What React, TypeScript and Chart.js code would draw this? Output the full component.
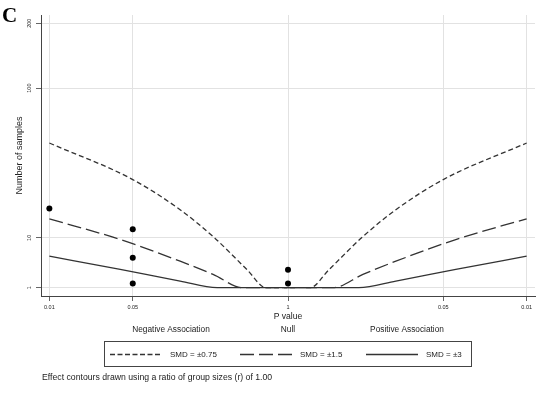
import React, { useEffect, useRef } from "react";
import { Chart, registerables } from "chart.js";
Chart.register(...registerables);

const FONT = "'Liberation Sans', Arial, Helvetica, sans-serif";
const LINE = "#333333";

// x axis: signed -log10(p) (negative association on the left)
const xTickValues = [-2, -1.30103, 0, 1.30103, 2];
const xTickLabels = ["0.01", "0.05", "1", "0.05", "0.01"];
// y axis: number of samples
const yTickValues = [1, 10, 100, 200];
const yTickLabels = ["1", "10", "100", "200"];
const yScaleStops = [0, 50, 200, 265];

// contour SMD = ±0.75
const smd075X = [-2, -1.301, -0.904, -0.628, -0.343, -0.184, 0.184, 0.343, 0.628, 0.904, 1.301, 2];
const smd075N = [43, 24.5, 15.4, 10.2, 2.3, 1, 1, 2.3, 10.2, 15.4, 24.5, 43];
// contour SMD = ±1.5
const smd15X = [-2, -1.406, -0.904, -0.628, -0.377, 0.377, 0.628, 0.904, 1.406, 2];
const smd15N = [13.4, 9.25, 3.4, 1.85, 1, 1, 1.85, 3.4, 9.25, 13.4];
// contour SMD = ±3
const smd3X = [-2, -1.406, -0.904, -0.594, 0.594, 0.904, 1.406, 2];
const smd3N = [4.29, 2.32, 1.36, 1, 1, 1.36, 2.32, 4.29];
// studies
const studyX = [-2, -1.30103, -1.30103, -1.30103, 0, 0];
const studyN = [15.7, 11.4, 4.0, 1.22, 2.3, 1.22];

function ty(n: number): number {
  const l = Math.log10(n);
  const L = yTickValues.map((v) => Math.log10(v));
  let i = 0;
  while (i < L.length - 2 && l > L[i + 1]) i++;
  return yScaleStops[i] + ((l - L[i]) / (L[i + 1] - L[i])) * (yScaleStops[i + 1] - yScaleStops[i]);
}

function pts(xs: number[], ns: number[]) {
  return xs.map((x, i) => ({ x, y: ty(ns[i]) }));
}

export default function App() {
  const ref = useRef<HTMLCanvasElement>(null);
  useEffect(() => {
    document.body.style.margin = "0";
    const canvas = ref.current!;
    const annot = {
      id: "annot",
      afterDraw(chart: any) {
        const ctx = chart.ctx as CanvasRenderingContext2D;
        const xs = chart.scales.x;
        const ys = chart.scales.y;
        ctx.save();
        ctx.fillStyle = "#000";
        ctx.font = "bold 21px 'Liberation Serif', 'Times New Roman', serif";
        ctx.textAlign = "left";
        ctx.textBaseline = "alphabetic";
        ctx.fillText("C", 2, 22);

        ctx.fillStyle = "#222";
        // y tick labels (rotated)
        ctx.font = `5.5px ${FONT}`;
        yTickValues.forEach((v, i) => {
          const py = ys.getPixelForValue(ty(v));
          ctx.save();
          ctx.translate(29, py);
          ctx.rotate(-Math.PI / 2);
          ctx.textAlign = "center";
          ctx.textBaseline = "middle";
          ctx.fillText(yTickLabels[i], 0, 0);
          ctx.restore();
        });
        // y title
        ctx.save();
        ctx.font = `9px ${FONT}`;
        ctx.translate(20, (chart.chartArea.top + chart.chartArea.bottom) / 2);
        ctx.rotate(-Math.PI / 2);
        ctx.textAlign = "center";
        ctx.textBaseline = "middle";
        ctx.fillText("Number of samples", 0, 0);
        ctx.restore();

        const cx = xs.getPixelForValue(0);
        ctx.textAlign = "center";
        ctx.textBaseline = "middle";
        ctx.font = `8.6px ${FONT}`;
        ctx.fillText("P value", cx, 316.5);
        ctx.font = `8.3px ${FONT}`;
        ctx.fillText("Null", cx, 330);
        ctx.fillText("Negative Association", 171, 330);
        ctx.fillText("Positive Association", 407, 330);

        // legend
        ctx.strokeStyle = "#444";
        ctx.lineWidth = 1;
        ctx.strokeRect(104.5, 341.5, 367, 25);
        const ly = 354.5;
        const items: [number, number[], string][] = [
          [110, [5, 2.5], "SMD = \u00b10.75"],
          [240, [14, 5], "SMD = \u00b11.5"],
          [366, [], "SMD = \u00b13"],
        ];
        ctx.strokeStyle = LINE;
        ctx.lineWidth = 1.3;
        ctx.font = `8px ${FONT}`;
        ctx.textAlign = "left";
        items.forEach(([x0, dash, label]) => {
          ctx.setLineDash(dash);
          ctx.beginPath();
          ctx.moveTo(x0, ly);
          ctx.lineTo(x0 + 52, ly);
          ctx.stroke();
          ctx.setLineDash([]);
          ctx.fillText(label, x0 + 60, ly);
        });
        ctx.font = `8.7px ${FONT}`;
        ctx.fillText("Effect contours drawn using a ratio of group sizes (r) of 1.00", 42, 378);
        ctx.restore();
      },
    };
    const lineDs = (label: string, xs: number[], ns: number[], dash: number[]) => ({
      label,
      data: pts(xs, ns),
      showLine: true,
      borderColor: LINE,
      borderWidth: 1.3,
      borderDash: dash,
      pointRadius: 0,
      fill: false,
      cubicInterpolationMode: "monotone",
    });
    const chart = new Chart(canvas, {
      type: "scatter",
      data: {
        datasets: [
          lineDs("SMD = ±0.75", smd075X, smd075N, [5, 3]),
          lineDs("SMD = ±1.5", smd15X, smd15N, [14, 5]),
          lineDs("SMD = ±3", smd3X, smd3N, []),
          {
            label: "Studies",
            data: pts(studyX, studyN),
            showLine: false,
            pointRadius: 3,
            pointBackgroundColor: "#000",
            pointBorderColor: "#000",
            pointBorderWidth: 0,
          } as any,
        ] as any,
      },
      options: {
        responsive: false,
        animation: false,
        devicePixelRatio: 1,
        layout: { padding: { left: 0, top: 15, right: 15, bottom: 0 } },
        plugins: { legend: { display: false }, tooltip: { enabled: false } },
        scales: {
          x: {
            type: "linear",
            min: -2.07,
            max: 2.07,
            afterBuildTicks: (s: any) => {
              s.ticks = xTickValues.map((v) => ({ value: v }));
            },
            afterFit: (s: any) => {
              s.height = 103;
            },
            ticks: {
              autoSkip: false,
              maxRotation: 0,
              minRotation: 0,
              padding: 3,
              color: "#222",
              font: { size: 5.5, family: FONT },
              callback: (v: any) => {
                const i = xTickValues.findIndex((t) => Math.abs(t - Number(v)) < 1e-6);
                return i >= 0 ? xTickLabels[i] : "";
              },
            },
            grid: { color: "#e2e2e2", lineWidth: 1, drawTicks: true, tickLength: 5, tickColor: "#666" },
            border: { display: true, color: "#444", width: 1 },
          },
          y: {
            type: "linear",
            min: -8.3,
            max: 273.3,
            afterBuildTicks: (s: any) => {
              s.ticks = yTickValues.map((v) => ({ value: ty(v) }));
            },
            afterFit: (s: any) => {
              s.width = 41;
            },
            ticks: { display: false },
            grid: { color: "#e2e2e2", lineWidth: 1, drawTicks: true, tickLength: 5, tickColor: "#666" },
            border: { display: true, color: "#444", width: 1 },
          },
        },
      } as any,
      plugins: [annot],
    });
    return () => chart.destroy();
  }, []);
  return (
    <div style={{ position: "absolute", left: 0, top: 0, width: 550, height: 399, background: "#fff" }}>
      <canvas ref={ref} width={550} height={399} style={{ display: "block", width: 550, height: 399 }} />
    </div>
  );
}
